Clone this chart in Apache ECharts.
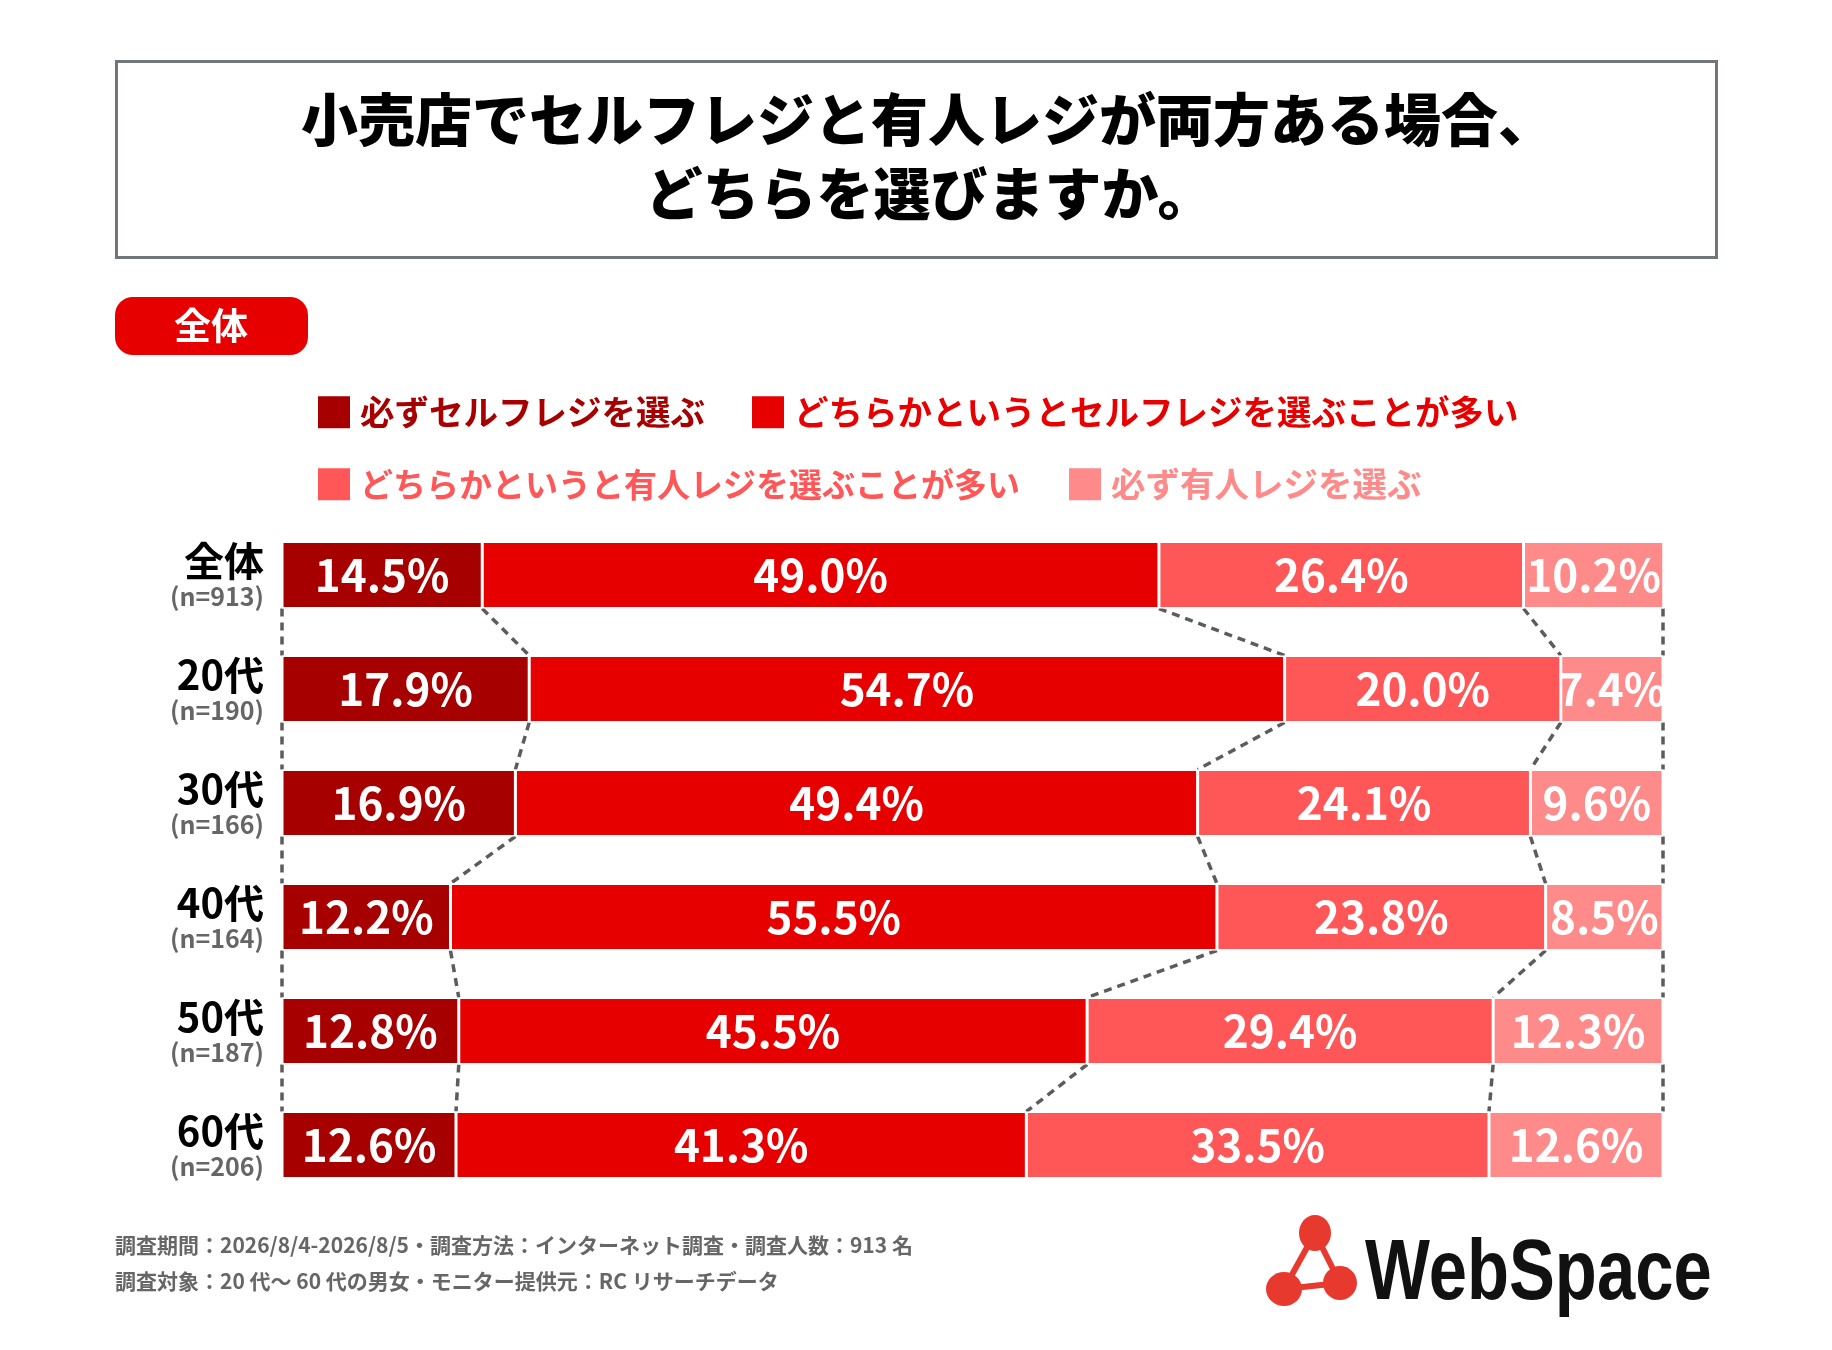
<!DOCTYPE html>
<html lang="ja">
<head>
<meta charset="UTF-8">
<title>セルフレジと有人レジ</title>
<script src="https://cdn.jsdelivr.net/npm/echarts@6/dist/echarts.min.js"></script>
<style>
  html, body { margin: 0; padding: 0; background: #fff; }
  #chart { width: 1832px; height: 1350px; }
</style>
</head>
<body>
<div id="chart"></div>
<script type="text/javascript">
// ---- data ----
var categories = ['全体', '20代', '30代', '40代', '50代', '60代'];
var sampleSizes = [913, 190, 166, 164, 187, 206];
var seriesNames = [
  '必ずセルフレジを選ぶ',
  'どちらかというとセルフレジを選ぶことが多い',
  'どちらかというと有人レジを選ぶことが多い',
  '必ず有人レジを選ぶ'
];
var alwaysSelf   = [14.5, 17.9, 16.9, 12.2, 12.8, 12.6];
var mostlySelf   = [49.0, 54.7, 49.4, 55.5, 45.5, 41.3];
var mostlyStaff  = [26.4, 20.0, 24.1, 23.8, 29.4, 33.5];
var alwaysStaff  = [10.2, 7.4, 9.6, 8.5, 12.3, 12.6];
var titleLines = ['小売店でセルフレジと有人レジが両方ある場合、', 'どちらを選びますか。'];
var footNotes = [
  '調査期間：2026/8/4-2026/8/5・調査方法：インターネット調査・調査人数：913 名',
  '調査対象：20 代～ 60 代の男女・モニター提供元：RC リサーチデータ'
];

var colors = ['#a60000', '#e60000', '#ff5757', '#ff8a8a'];
var FONT = '"Noto Sans CJK JP", "Noto Sans", sans-serif';
var BAR_H = 67;

var allSeries = [alwaysSelf, mostlySelf, mostlyStaff, alwaysStaff];

// connector lines: segment boundaries from one row's bottom to the next row's top
var connectors = [];
for (var i = 0; i < categories.length - 1; i++) {
  var cTop = 0, cBot = 0;
  for (var k = 0; k <= allSeries.length; k++) {
    connectors.push([Math.min(cTop, 100), i, Math.min(cBot, 100), i + 1]);
    if (k < allSeries.length) {
      cTop += allSeries[k][i];
      cBot += allSeries[k][i + 1];
    }
  }
}

var chart = echarts.init(document.getElementById('chart'));

var barSeries = allSeries.map(function (vals, idx) {
  return {
    name: seriesNames[idx],
    type: 'bar',
    stack: 'total',
    barWidth: BAR_H,
    data: vals,
    itemStyle: { color: colors[idx], borderColor: '#fff', borderWidth: 1.5 },
    label: {
      show: true,
      position: 'inside',
      color: '#fff',
      fontSize: 44,
      fontWeight: 'bold',
      fontFamily: FONT,
      formatter: function (p) { return p.value.toFixed(1) + '%'; }
    },
    emphasis: { disabled: true }
  };
});

var legendText = { fontSize: 34.5, fontWeight: 'bold', fontFamily: FONT, padding: [0, 0, 0, 5] };

var option = {
  backgroundColor: '#fff',
  animation: false,
  title: {
    text: footNotes.join('\n'),
    left: 110,
    top: 1222,
    textStyle: { fontSize: 21, fontWeight: 'bold', color: '#666', lineHeight: 36, fontFamily: FONT }
  },
  legend: [
    {
      left: 313, top: 390, itemWidth: 32, itemHeight: 32, itemGap: 47,
      icon: 'rect', selectedMode: false, textStyle: legendText,
      itemStyle: { borderWidth: 0 },
      data: [
        { name: seriesNames[0], textStyle: { color: colors[0] } },
        { name: seriesNames[1], textStyle: { color: colors[1] } }
      ]
    },
    {
      left: 313, top: 462, itemWidth: 32, itemHeight: 32, itemGap: 49,
      icon: 'rect', selectedMode: false, textStyle: legendText,
      itemStyle: { borderWidth: 0 },
      data: [
        { name: seriesNames[2], textStyle: { color: colors[2], fontSize: 33 } },
        { name: seriesNames[3], textStyle: { color: colors[3] } }
      ]
    }
  ],
  grid: { left: 282, right: 169, top: 518, bottom: 148, containLabel: false },
  xAxis: { type: 'value', min: 0, max: 100, show: false },
  yAxis: {
    type: 'category',
    inverse: true,
    data: categories,
    axisLine: { show: false },
    axisTick: { show: false },
    axisLabel: {
      margin: 18,
      align: 'right',
      formatter: function (v, i) {
        return '{a|' + v + '}\n{b|(n=' + sampleSizes[i] + ')}';
      },
      rich: {
        a: { fontSize: 40, fontWeight: 'bold', color: '#000', lineHeight: 42, fontFamily: FONT, align: 'right' },
        b: { fontSize: 25, fontWeight: 'bold', color: '#666', lineHeight: 28, fontFamily: FONT, align: 'right' }
      }
    }
  },
  graphic: [
    {
      type: 'rect', left: 114, top: 59, z: 0,
      shape: { width: 1600, height: 196 },
      style: { fill: 'none', stroke: '#6f777b', lineWidth: 3 }
    },
    {
      type: 'text', x: 928, y: 119,
      style: { text: titleLines[0], fill: '#000', font: '900 57px ' + FONT, align: 'center', verticalAlign: 'middle' }
    },
    {
      type: 'text', x: 930, y: 193,
      style: { text: titleLines[1], fill: '#000', font: '900 57px ' + FONT, align: 'center', verticalAlign: 'middle' }
    },
    {
      type: 'rect', left: 115, top: 297,
      shape: { width: 193, height: 58, r: 18 },
      style: { fill: '#e60000' }
    },
    {
      type: 'text', x: 211, y: 326,
      style: { text: '全体', fill: '#fff', font: 'bold 37px ' + FONT, align: 'center', verticalAlign: 'middle' }
    },
    {
      type: 'group', left: 1266, top: 1215,
      children: [
        { type: 'line', shape: { x1: 51, y1: 19, x2: 20, y2: 75 }, style: { stroke: '#e8392f', lineWidth: 6 } },
        { type: 'line', shape: { x1: 51, y1: 19, x2: 76, y2: 69 }, style: { stroke: '#e8392f', lineWidth: 6 } },
        { type: 'line', shape: { x1: 20, y1: 75, x2: 76, y2: 69 }, style: { stroke: '#e8392f', lineWidth: 6 } },
        { type: 'ellipse', shape: { cx: 51, cy: 19, rx: 16, ry: 18 }, style: { fill: '#e8392f' } },
        { type: 'ellipse', shape: { cx: 20, cy: 75, rx: 18, ry: 17 }, style: { fill: '#e8392f' } },
        { type: 'ellipse', shape: { cx: 76, cy: 69, rx: 17, ry: 17 }, style: { fill: '#e8392f' } }
      ]
    },
    {
      type: 'text', x: 1365, y: 1275, scaleX: 0.8,
      style: { text: 'WebSpace', fill: '#111', font: 'bold 86px "Liberation Sans", Arial, sans-serif', verticalAlign: 'middle' }
    }
  ],
  series: barSeries.concat([
    {
      type: 'custom',
      silent: true,
      z: 1,
      data: connectors,
      encode: { x: [0, 2], y: [1, 3] },
      renderItem: function (params, api) {
        var p1 = api.coord([api.value(0), api.value(1)]);
        var p2 = api.coord([api.value(2), api.value(3)]);
        return {
          type: 'line',
          shape: { x1: p1[0], y1: p1[1] + BAR_H / 2, x2: p2[0], y2: p2[1] - BAR_H / 2 },
          style: { stroke: '#5c5c5c', lineWidth: 3.5, lineDash: [8, 6] }
        };
      }
    }
  ])
};

chart.setOption(option);
</script>
</body>
</html>
